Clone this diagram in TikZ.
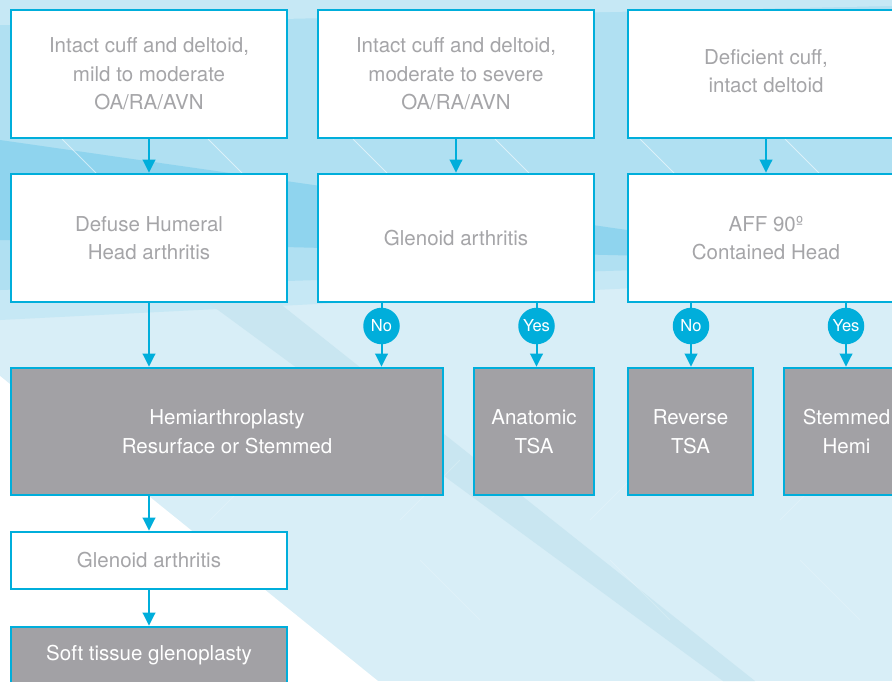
\documentclass[tikz,border=0pt]{standalone}
\usepackage{fontspec}
\setmainfont{TeX Gyre Heros}
\usetikzlibrary{arrows.meta}
\definecolor{lineblue}{HTML}{00AEDB}
\definecolor{graytext}{HTML}{A5A5A8}
\definecolor{grayfill}{HTML}{A2A1A5}
\definecolor{bgbase}{HTML}{D8EEF7}
\definecolor{bgmid}{HTML}{B0E0F2}
\definecolor{bgdark}{HTML}{8FD4EE}
\definecolor{bglight}{HTML}{C6E8F5}
\definecolor{bgband}{HTML}{C9E6F1}
\tikzset{
  wbox/.style={draw=lineblue, line width=2.6pt, fill=white, text=graytext, align=center,
    font=\fontsize{20.5}{28.5}\selectfont, inner sep=0pt, minimum width=276pt, minimum height=128pt},
  gbox/.style={wbox, fill=grayfill, text=white},
  yn/.style={circle, fill=lineblue, text=white, minimum size=36.5pt, inner sep=0pt,
    font=\fontsize{16.5}{17}\selectfont},
  arr/.style={draw=lineblue, line width=2pt, -{Triangle[width=12.5pt,length=13pt]}},
  conn/.style={draw=lineblue, line width=2pt},
  faint/.style={draw=white, line width=1pt, opacity=0.55}
}
\begin{document}
\begin{tikzpicture}[x=1pt,y=-1pt]
\useasboundingbox (0,0) rectangle (892,681);
\clip (0,0) rectangle (892,681);
% background
\fill[bgbase] (0,0) rectangle (892,681);
\fill[bglight] (0,0) -- (892,0) -- (892,275) -- (0,320) -- cycle;
\fill[bgmid] (0,0) -- (892,0) -- (892,262) -- (0,290) -- cycle;
\fill[bglight] (0,0) -- (892,0) -- (892,6) -- (0,25) -- cycle;
\fill[bgdark] (0,140) -- (892,268) -- (892,262) -- (0,240) -- cycle;
\fill[bgband] (150,260) -- (225,260) -- (755,681) -- (723,681) -- cycle;
\fill[white] (0,376) -- (378,681) -- (0,681) -- cycle;
% faint lattice lines
\foreach \x in {62,208,353,495,640,785} {
  \draw[faint] (\x,139) -- ++(34,34);
}
\foreach \x in {20,210,400,590,780} {
  \draw[faint, opacity=0.2] (\x,520) -- ++(60,-60);
  \draw[faint, opacity=0.2] (\x+20,560) -- ++(60,60);
}
% row 1
\node[wbox] (a1) at (149,74) {Intact cuff and deltoid,\\mild to moderate\\OA/RA/AVN};
\node[wbox] (b1) at (456,74) {Intact cuff and deltoid,\\moderate to severe\\OA/RA/AVN};
\node[wbox] (c1) at (766,74) {};
\node[text=graytext, align=center, font=\fontsize{20.5}{28.5}\selectfont, inner sep=0pt] (c1t) at (766,71) {Deficient cuff,\\intact deltoid};
% row 2
\node[wbox] (a2) at (149,238) {Defuse Humeral\\Head arthritis};
\node[wbox] (b2) at (456,238) {Glenoid arthritis};
\node[wbox] (c2) at (766,238) {AFF 90º\\Contained Head};
% row 3
\node[gbox, minimum width=432pt, minimum height=127pt] (hemi) at (227,431.5) {Hemiarthroplasty\\Resurface or Stemmed};
\node[gbox, minimum width=120pt, minimum height=127pt] (ana) at (534,431.5) {Anatomic\\TSA};
\node[gbox, minimum width=125pt, minimum height=127pt] (rev) at (690.5,431.5) {Reverse\\TSA};
\node[gbox, minimum width=125pt, minimum height=127pt] (stem) at (846.5,431.5) {Stemmed\\Hemi};
% row 4
\node[wbox, minimum height=57pt] (glen) at (149,560.5) {Glenoid arthritis};
\node[gbox, minimum height=57pt] (soft) at (149,655.5) {Soft tissue glenoplasty};
% yes/no
\node[yn] (n1) at (381.5,326) {No};
\node[yn] (y1) at (536.5,326) {Yes};
\node[yn] (n2) at (691,326) {No};
\node[yn] (y2) at (846,326) {Yes};
% connectors
\draw[arr] (a1.south) -- (a2.north);
\draw[arr] (b1.south) -- (b2.north);
\draw[arr] (c1.south) -- (c2.north);
\draw[arr] (a2.south) -- (a2.south |- hemi.north);
\draw[conn] (n1 |- b2.south) -- (n1);
\draw[conn] (y1 |- b2.south) -- (y1);
\draw[conn] (n2 |- c2.south) -- (n2);
\draw[conn] (y2 |- c2.south) -- (y2);
\draw[arr] (n1) -- (n1 |- hemi.north);
\draw[arr] (y1) -- (y1 |- ana.north);
\draw[arr] (n2) -- (n2 |- rev.north);
\draw[arr] (y2) -- (y2 |- stem.north);
\draw[arr] (a2.south |- hemi.south) -- (glen.north);
\draw[arr] (glen.south) -- (soft.north);
\end{tikzpicture}
\end{document}
